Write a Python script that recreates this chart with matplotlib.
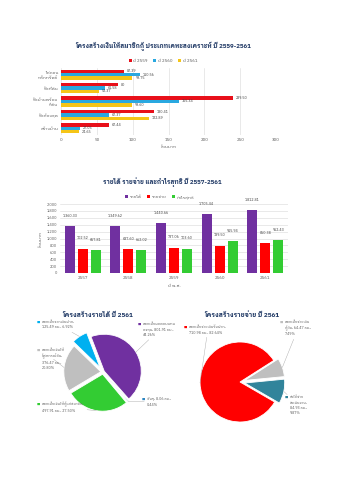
import matplotlib
matplotlib.use("Agg")
import matplotlib.pyplot as plt
import numpy as np

plt.rcParams['font.family'] = ["IBM Plex Sans Thai Looped", "DejaVu Sans"]

# ---------- ข้อมูล ----------
# กราฟ 1: เงินให้สมาชิกกู้ ประเภทเคหะสงเคราะห์
loan_types = ["ไถ่ถอน\nหลักทรัพย์", "ซื้อที่ดิน", "ซื้อบ้านพร้อม\nที่ดิน", "ซื้อห้องชุด", "สร้างบ้าน"]
loan_years = ["ปี 2559", "ปี 2560", "ปี 2561"]
loan_2559 = [87.39, 80.00, 239.50, 130.41, 67.44]
loan_2560 = [110.56, 61.58, 165.34, 67.37, 27.05]
loan_2561 = [99.75, 52.37, 99.60, 122.89, 24.65]

# กราฟ 2: รายได้ รายจ่าย กำไรสุทธิ
years = ["2557", "2558", "2559", "2560", "2561"]
series2 = ["รายได้", "รายจ่าย", "กำไรสุทธิ"]
income = [1360.33, 1349.62, 1440.66, 1705.44, 1812.81]
expense = [702.52, 687.60, 737.06, 789.50, 860.38]
profit = [657.81, 662.02, 703.60, 915.94, 952.43]

# กราฟ 3: โครงสร้างรายได้ ปี 2561
income_values = [801.91, 8.06, 497.91, 376.47, 125.49]
income_labels = ["ดอกเบี้ยผลตอบแทน\nลงทุน, 801.91 ลบ.,\n44.26%",
                 "อื่นๆ, 8.06 ลบ.,\n0.44%",
                 "ดอกเบี้ยเงินให้กู้แก่สมาชิก,\n497.91 ลบ., 27.50%",
                 "ดอกเบี้ยเงินให้\nกู้สหกรณ์อื่น,\n376.47 ลบ.,\n20.80%",
                 "ดอกเบี้ยจากเงินฝาก,\n125.49 ลบ., 6.92%"]

# กราฟ 4: โครงสร้างรายจ่าย ปี 2561
expense_values = [710.98, 64.47, 84.93]
expense_labels = ["ดอกเบี้ยจ่ายเงินรับฝาก,\n710.98 ลบ., 82.64%",
                  "ดอกเบี้ยจ่ายเงิน\nกู้ยืม, 64.47 ลบ.,\n7.49%",
                  "ค่าใช้จ่าย\nดำเนินงาน,\n84.93 ลบ.,\n9.87%"]

W, H = 344, 480
NAVY = "#1F3864"
TXT = "#595959"

fig = plt.figure(figsize=(W / 100, H / 100), dpi=100)


def box(x0, y0, x1, y1):
    # พิกัดพิกเซลจากมุมบนซ้าย -> พิกัด figure
    return [x0 / W, 1 - y1 / H, (x1 - x0) / W, (y1 - y0) / H]


def fpx(x, y):
    return (x / W, 1 - y / H)


def clean(ax):
    for s in ax.spines.values():
        s.set_visible(False)
    ax.tick_params(length=0, labelsize=3.2, colors=TXT, pad=2)


# ---------- กราฟ 1 ----------
fig.text(*fpx(163, 46), "โครงสร้างเงินให้สมาชิกกู้ ประเภทเคหะสงเคราะห์ ปี 2559-2561",
         ha="center", va="center", fontsize=4.4, fontweight="bold", color=NAVY)
ax1 = fig.add_axes(box(61, 68, 276, 135))
pos = np.arange(len(loan_types))
bh = 0.25
for i, (vals, name, col) in enumerate(zip([loan_2559, loan_2560, loan_2561], loan_years,
                                          ["#E8101A", "#29A8E0", "#F5C518"])):
    bars = ax1.barh(pos + (i - 1) * bh, vals, height=bh, color=col, label=name)
    ax1.bar_label(bars, labels=[f"{v:.2f}" if v % 1 else f"{v:.0f}" for v in vals],
                  padding=2, fontsize=2.6, color="#404040")
ax1.set_xlim(0, 300)
ax1.set_ylim(len(loan_types) - 0.5, -0.5)
ax1.set_xticks(range(0, 301, 50))
ax1.set_yticks(pos, loan_types)
ax1.grid(axis="x", color="#d9d9d9", lw=0.4)
ax1.set_axisbelow(True)
clean(ax1)
ax1.set_xlabel("ล้านบาท", fontsize=3.2, color=TXT, labelpad=2)
ax1.legend(loc="center", bbox_to_anchor=fpx(163, 61), bbox_transform=fig.transFigure,
           ncol=3, frameon=False, fontsize=3.2, handlelength=0.7, handleheight=0.7,
           columnspacing=1.2, handletextpad=0.4, labelcolor=TXT)

# ---------- กราฟ 2 ----------
fig.text(*fpx(162, 182), "รายได้ รายจ่าย และกำไรสุทธิ ปี 2557-2561",
         ha="center", va="center", fontsize=4.4, fontweight="bold", color=NAVY)
ax2 = fig.add_axes(box(60, 204, 288, 273))
x = np.arange(len(years))
bw = 0.22
for i, (vals, name, col) in enumerate(zip([income, expense, profit], series2,
                                          ["#7030A0", "#FF0000", "#33CC33"])):
    bars = ax2.bar(x + (i - 1) * 0.285, vals, width=bw, color=col, label=name)
    ax2.bar_label(bars, labels=[f"{v:,.2f}" for v in vals], padding=6,
                  fontsize=2.6, color="#404040")
ax2.set_xlim(-0.5, len(years) - 0.5)
ax2.set_ylim(0, 2000)
ax2.set_yticks(range(0, 2001, 200), [f"{v:,}" for v in range(0, 2001, 200)])
ax2.set_xticks(x, years)
ax2.grid(axis="y", color="#d9d9d9", lw=0.4)
ax2.set_axisbelow(True)
clean(ax2)
ax2.tick_params(axis="y", labelsize=2.8)
ax2.set_xlabel("ปี พ.ศ.", fontsize=3.2, color=TXT, labelpad=3)
ax2.set_ylabel("ล้านบาท", fontsize=3.2, color=TXT, labelpad=3)
ax2.legend(loc="center", bbox_to_anchor=fpx(160, 197), bbox_transform=fig.transFigure,
           ncol=3, frameon=False, fontsize=3.2, handlelength=0.7, handleheight=0.7,
           columnspacing=1.2, handletextpad=0.4, labelcolor=TXT)


# ---------- กราฟวงกลม ----------
def pie_chart(center, r, title, title_pos, values, labels, colors, explode, start, label_pos):
    cx, cy = center
    half = r * 1.35
    ax = fig.add_axes(box(cx - half, cy - half, cx + half, cy + half))
    wedges, _ = ax.pie(values, colors=colors, explode=explode, startangle=start,
                       counterclock=False, radius=1,
                       wedgeprops=dict(edgecolor="white", linewidth=0.6))
    ax.set_xlim(-1.35, 1.35)
    ax.set_ylim(-1.35, 1.35)
    ax.set_aspect("equal")
    ax.axis("off")
    fig.text(*fpx(*title_pos), title, ha="center", va="center", fontsize=4.6,
             fontweight="bold", color=NAVY)
    for w, lab, col, (lx, ly) in zip(wedges, labels, colors, label_pos):
        ang = np.deg2rad((w.theta1 + w.theta2) / 2)
        px = w.center[0] + w.r * np.cos(ang)
        py = w.center[1] + w.r * np.sin(ang)
        fig.text(*fpx(lx - 5, ly), "■", fontsize=2.5, color=col, va="center",
                 family="DejaVu Sans")
        ax.annotate(lab, xy=(px, py), xytext=fpx(lx, ly - 2),
                    textcoords="figure fraction", fontsize=2.6, color=TXT,
                    va="top", ha="left", linespacing=1.5,
                    arrowprops=dict(arrowstyle="-", color="#a6a6a6", lw=0.3,
                                    shrinkA=0, shrinkB=0))


pie_chart((103, 372), 37, "โครงสร้างรายได้ ปี 2561", (98, 315),
          income_values, income_labels,
          ["#7030A0", "#2E86C1", "#33CC33", "#BFBFBF", "#00B0F0"],
          [0.04, 0.04, 0.06, 0.06, 0.15], 111,
          [(143, 324), (147, 399), (42, 404), (42, 350), (42, 322)])

pie_chart((240, 382), 40, "โครงสร้างรายจ่าย ปี 2561", (242, 315),
          expense_values, expense_labels,
          ["#FF0000", "#BFBFBF", "#31849B"],
          [0, 0.12, 0.12], -30,
          [(189, 327), (285, 322), (290, 397)])

fig.savefig("out.png", dpi=100, facecolor="white")
